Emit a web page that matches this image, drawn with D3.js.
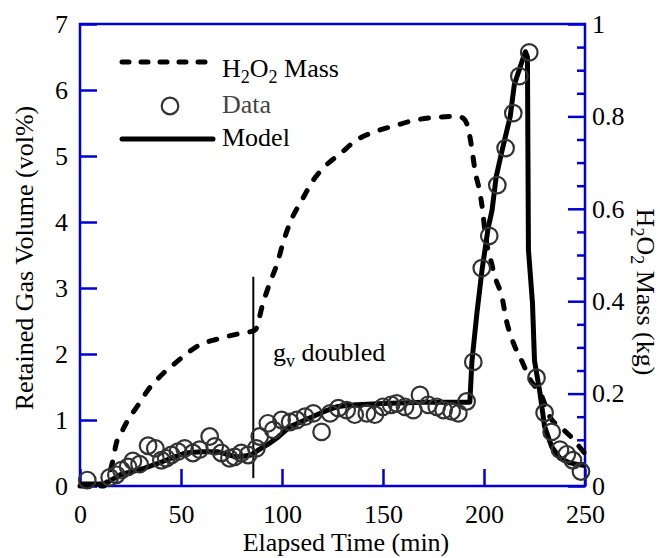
<!DOCTYPE html>
<html><head><meta charset="utf-8">
<script src="https://cdn.jsdelivr.net/npm/d3@7"></script>
<style>body{margin:0;background:#fff}svg{display:block}
.ser, .ser text, text.ser{font-family:'Liberation Serif' !important}
</style>
</head><body>
<script>
// ---- data ----
const xTicks = [0, 50, 100, 150, 200, 250];
const yLeftTicks = [0, 1, 2, 3, 4, 5, 6, 7];
const yRightMajor = [0, 0.2, 0.4, 0.6, 0.8, 1];
const yRightMinor = [0.05, 0.1, 0.15, 0.25, 0.3, 0.35, 0.45, 0.5, 0.55, 0.65, 0.7, 0.75, 0.85, 0.9, 0.95];

// H2O2 mass (kg) vs time (min)
const massT = [0, 12, 14, 16, 18, 21, 24, 28, 31, 34, 37, 41, 45, 51, 59, 68, 79, 86.6, 90.6, 94, 97.5, 100.5, 104, 110, 115.5, 122, 129, 137, 146, 156, 166, 176, 187, 190, 192, 194, 195.5, 198, 199.5, 200.5, 203, 205.5, 209, 211, 214, 219, 223, 228, 232.6, 238.6, 243.6, 248.5, 250];
const massV = [0, 0, 0.02, 0.05, 0.093, 0.12, 0.145, 0.17, 0.19, 0.21, 0.225, 0.243, 0.258, 0.28, 0.305, 0.318, 0.33, 0.337, 0.396, 0.44, 0.48, 0.526, 0.57, 0.62, 0.662, 0.695, 0.72, 0.749, 0.767, 0.78, 0.792, 0.798, 0.80, 0.795, 0.777, 0.73, 0.684, 0.634, 0.59, 0.548, 0.496, 0.452, 0.407, 0.36, 0.316, 0.268, 0.229, 0.20, 0.15, 0.125, 0.104, 0.078, 0.07];

// Model retained gas (vol%)
const modelT = [0, 12.5, 16, 20, 26, 32, 40, 46, 52, 60, 68, 73, 77, 81, 84.6, 89.6, 94, 98, 104, 110, 115, 121, 127, 132, 137, 150, 170, 193, 194, 196.5, 199, 200.5, 202, 204, 206, 209, 213, 215, 219, 220.5, 221.5, 222, 224, 225, 227.7, 230, 233.6, 237.6, 242.6, 247.5, 250];
const modelV = [0.03, 0.03, 0.1, 0.17, 0.22, 0.27, 0.36, 0.43, 0.5, 0.52, 0.52, 0.48, 0.44, 0.45, 0.47, 0.57, 0.65, 0.74, 0.9, 0.98, 1.05, 1.13, 1.2, 1.22, 1.23, 1.25, 1.27, 1.27, 1.88, 2.62, 3.27, 3.58, 3.9, 4.18, 4.68, 5.09, 5.6, 6.08, 6.45, 6.58, 6.5, 3.58, 2.77, 1.9, 1.41, 0.9, 0.59, 0.42, 0.35, 0.32, 0.31];

// Measured data (vol%)
const dataT = [3.6, 14.7, 18, 20.5, 23.8, 26.2, 29.5, 33.7, 37.3, 40.3, 42.7, 45.2, 48.5, 51.8, 55.9, 59.2, 64.2, 66.7, 70, 74, 76.6, 79.8, 83.2, 87.3, 89, 93, 95.7, 99.8, 104, 107.3, 111.4, 115.5, 119.6, 123.8, 127.9, 132, 136, 142, 146, 150, 154, 156.8, 160.9, 165, 168.3, 172.4, 176.6, 180, 184, 187.3, 191.4, 194.7, 198.9, 202.6, 206.6, 210.7, 214.5, 217.5, 222.4, 226, 230, 233.5, 237.6, 241, 244, 248];
const dataV = [0.09, 0.13, 0.17, 0.24, 0.29, 0.38, 0.33, 0.61, 0.57, 0.39, 0.42, 0.47, 0.52, 0.57, 0.5, 0.55, 0.75, 0.6, 0.5, 0.42, 0.44, 0.5, 0.47, 0.57, 0.75, 0.95, 0.85, 1.0, 0.97, 1.0, 1.05, 1.1, 0.82, 1.1, 1.18, 1.15, 1.08, 1.1, 1.08, 1.2, 1.23, 1.25, 1.2, 1.15, 1.38, 1.23, 1.2, 1.15, 1.13, 1.1, 1.28, 1.88, 3.3, 3.79, 4.56, 5.12, 5.65, 6.21, 6.57, 1.64, 1.11, 0.82, 0.55, 0.48, 0.39, 0.22];

const markerT = 85.8;            // g_v doubled
const markerRange = [0.12, 3.17];

// ---- drawing ----
const W = 660, H = 558;
const X0 = 80, X1 = 585, Y0 = 24, Y1 = 486;
const BLUE = "#0000d4";
const FS = 26;
const SUB = 18;

const x = d3.scaleLinear().domain([0, 250]).range([X0, X1]);
const yL = d3.scaleLinear().domain([0, 7]).range([Y1, Y0]);
const yR = d3.scaleLinear().domain([0, 1]).range([Y1, Y0]);

const svg = d3.select("body").append("svg").attr("width", W).attr("height", H).attr("class", "ser");

function styleAxis(g) {
  g.attr("class", "ser");
  g.select(".domain").remove();
  g.selectAll(".tick line").attr("stroke", BLUE).attr("stroke-width", 2.5);
  g.selectAll(".tick text").attr("fill", "#000").attr("font-size", FS).attr("class", "ser");
}

// bottom axis
svg.append("g").attr("transform", `translate(0,${Y1})`)
  .call(d3.axisBottom(x).tickValues(xTicks).tickFormat(d3.format("d")).tickSize(-17).tickPadding(19))
  .call(styleAxis);
// left axis
svg.append("g").attr("transform", `translate(${X0},0)`)
  .call(d3.axisLeft(yL).tickValues(yLeftTicks).tickFormat(d3.format("d")).tickSize(-17).tickPadding(12))
  .call(styleAxis);
// right axis major
svg.append("g").attr("transform", `translate(${X1},0)`)
  .call(d3.axisRight(yR).tickValues(yRightMajor).tickFormat(d => d === 0 || d === 1 ? d3.format("d")(d) : d3.format(".1f")(d)).tickSize(-17).tickPadding(7))
  .call(styleAxis);
// right axis minor
svg.append("g").attr("transform", `translate(${X1},0)`)
  .call(d3.axisRight(yR).tickValues(yRightMinor).tickFormat("").tickSize(-8))
  .call(styleAxis);

// frame
svg.append("rect").attr("x", X0).attr("y", Y0).attr("width", X1 - X0).attr("height", Y1 - Y0)
  .attr("fill", "none").attr("stroke", BLUE).attr("stroke-width", 2.5);

// H2O2 mass dashed
const massLine = d3.line().x((d, i) => x(massT[i])).y(d => yR(d)).curve(d3.curveMonotoneX);
svg.append("path").attr("d", massLine(massV)).attr("fill", "none").attr("stroke", "#000")
  .attr("stroke-width", 5).attr("stroke-dasharray", "8,13").attr("stroke-linecap", "round");

// model line
const modelLine = d3.line().x((d, i) => x(modelT[i])).y(d => yL(d));
svg.append("path").attr("d", modelLine(modelV)).attr("fill", "none").attr("stroke", "#000")
  .attr("stroke-width", 5).attr("stroke-linejoin", "round");

// marker line
svg.append("line").attr("x1", x(markerT)).attr("x2", x(markerT))
  .attr("y1", yL(markerRange[0])).attr("y2", yL(markerRange[1]))
  .attr("stroke", "#000").attr("stroke-width", 2);

// data circles
svg.append("g").selectAll("circle").data(dataV).join("circle")
  .attr("cx", (d, i) => x(dataT[i])).attr("cy", d => yL(d)).attr("r", 8.3)
  .attr("fill", "none").attr("stroke", "#333").attr("stroke-width", 2.2);

// annotation
const ann = svg.append("text").attr("class", "ser").attr("x", x(95.5)).attr("y", yL(1.9)).attr("font-size", FS);
ann.append("tspan").text("g");
ann.append("tspan").text("v").attr("font-size", SUB).attr("dy", 6);
ann.append("tspan").text(" doubled").attr("dy", -6);

// legend
const lg = svg.append("g");
lg.append("line").attr("x1", 122).attr("x2", 213).attr("y1", 62).attr("y2", 62)
  .attr("stroke", "#000").attr("stroke-width", 5).attr("stroke-dasharray", "7,12").attr("stroke-linecap", "round");
const t1 = lg.append("text").attr("class", "ser").attr("x", 222).attr("y", 77).attr("font-size", FS);
t1.append("tspan").text("H");
t1.append("tspan").text("2").attr("font-size", SUB).attr("dy", 6);
t1.append("tspan").text("O").attr("dy", -6);
t1.append("tspan").text("2").attr("font-size", SUB).attr("dy", 6);
t1.append("tspan").text(" Mass").attr("dy", -6);
lg.append("circle").attr("cx", 170).attr("cy", 106).attr("r", 8.3).attr("fill", "none").attr("stroke", "#333").attr("stroke-width", 2.2);
lg.append("text").attr("class", "ser").attr("x", 222).attr("y", 113).attr("font-size", FS).attr("fill", "#444").text("Data");
lg.append("line").attr("x1", 122).attr("x2", 213).attr("y1", 139).attr("y2", 139)
  .attr("stroke", "#000").attr("stroke-width", 5).attr("stroke-linecap", "round");
lg.append("text").attr("class", "ser").attr("x", 222).attr("y", 146).attr("font-size", FS).text("Model");

// axis titles
svg.append("text").attr("class", "ser").attr("x", 346).attr("y", 551).attr("text-anchor", "middle").attr("font-size", FS)
  .text("Elapsed Time (min)");
svg.append("text").attr("class", "ser").attr("transform", "translate(33,258) rotate(-90)").attr("text-anchor", "middle")
  .attr("font-size", FS).text("Retained Gas Volume (vol%)");
const rt = svg.append("text").attr("class", "ser").attr("transform", "translate(637,292) rotate(90)").attr("text-anchor", "middle")
  .attr("font-size", FS);
rt.append("tspan").text("H");
rt.append("tspan").text("2").attr("font-size", SUB).attr("dy", 6);
rt.append("tspan").text("O").attr("dy", -6);
rt.append("tspan").text("2").attr("font-size", SUB).attr("dy", 6);
rt.append("tspan").text(" Mass (kg)").attr("dy", -6);
</script>
</body></html>
